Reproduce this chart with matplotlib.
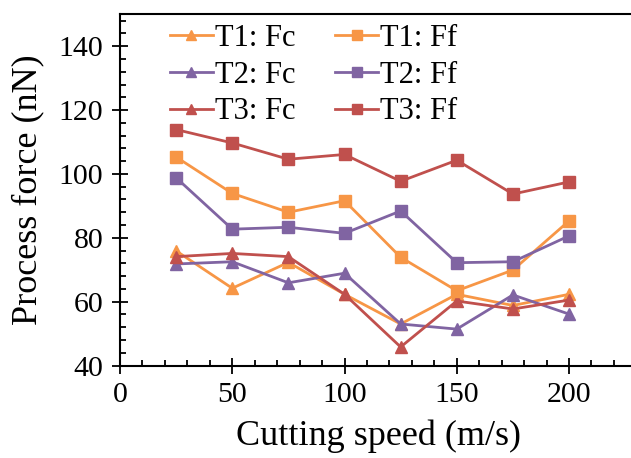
import matplotlib
matplotlib.use("Agg")
import matplotlib.pyplot as plt
from matplotlib.ticker import MultipleLocator

plt.rcParams['font.family'] = ['Liberation Serif', 'DejaVu Serif']
plt.rcParams['mathtext.fontset'] = 'stix'

speed = [25, 50, 75, 100, 125, 150, 175, 200]
t1_fc = [75.9, 64.2, 72.3, 62.3, 53.0, 62.3, 58.8, 62.3]
t1_ff = [105.3, 93.9, 88.0, 91.6, 73.9, 63.4, 69.9, 85.3]
t2_fc = [71.8, 72.5, 65.9, 68.9, 53.0, 51.4, 62.1, 56.1]
t2_ff = [98.8, 82.7, 83.3, 81.4, 88.4, 72.2, 72.5, 80.6]
t3_fc = [74.1, 75.1, 74.1, 62.3, 45.8, 60.2, 57.7, 60.5]
t3_ff = [113.9, 109.7, 104.6, 106.1, 97.7, 104.3, 93.7, 97.5]

c_orange = '#F79646'
c_purple = '#8064A2'
c_red = '#C0504D'

fig = plt.figure(figsize=(6.31, 4.58), dpi=100)
ax = fig.add_axes([120/631, (458-365.5)/458, 516.4/631, (365.5-14.3)/458])

kt = dict(lw=2, ms=9)
ks = dict(lw=2, ms=8.5)
h1 = ax.plot(speed, t1_fc, '-^', color=c_orange, label='T1: Fc', **kt)[0]
h2 = ax.plot(speed, t2_fc, '-^', color=c_purple, label='T2: Fc', **kt)[0]
h3 = ax.plot(speed, t3_fc, '-^', color=c_red, label='T3: Fc', **kt)[0]
h4 = ax.plot(speed, t1_ff, '-s', color=c_orange, label='T1: Ff', **ks)[0]
h5 = ax.plot(speed, t2_ff, '-s', color=c_purple, label='T2: Ff', **ks)[0]
h6 = ax.plot(speed, t3_ff, '-s', color=c_red, label='T3: Ff', **ks)[0]

ax.set_xlim(0, 230)
ax.set_ylim(40, 150)
ax.xaxis.set_major_locator(MultipleLocator(50))
ax.xaxis.set_minor_locator(MultipleLocator(10))
ax.yaxis.set_major_locator(MultipleLocator(20))
ax.yaxis.set_minor_locator(MultipleLocator(4))
ax.tick_params(which='major', direction='inout', length=11, width=1.3, labelsize=21.5)
ax.tick_params(axis='x', which='major', pad=6.5)
ax.tick_params(axis='y', which='major', pad=6.5)
ax.tick_params(which='minor', direction='in', length=4.5, width=1.3)
ax.tick_params(top=False, right=False)
for s in ax.spines.values():
    s.set_linewidth(1.5)
ax.spines['right'].set_visible(False)

ax.set_xlabel('Cutting speed (m/s)', fontsize=26, labelpad=8)
ax.set_ylabel('Process force (nN)', fontsize=26, labelpad=10)

leg = ax.legend(handles=[h1, h2, h3, h4, h5, h6], ncol=2, loc='upper left',
                bbox_to_anchor=(0.0968, 0.972), borderaxespad=0, borderpad=0,
                frameon=False, fontsize=22, handlelength=1.4,
                handletextpad=0.07, columnspacing=1.3, labelspacing=0.25,
                markerscale=0.82)

fig.savefig('out.png', dpi=100)
